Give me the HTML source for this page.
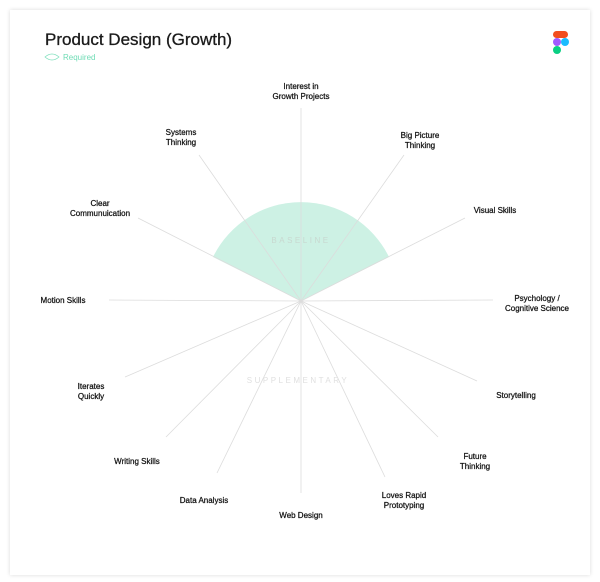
<!DOCTYPE html>
<html><head><meta charset="utf-8"><style>
body{margin:0;background:#fff;width:600px;height:582px;overflow:hidden;font-family:"Liberation Sans",sans-serif;}
.card{position:absolute;left:10px;top:10px;width:580px;height:565px;background:#fff;box-shadow:0 0 4px rgba(0,0,0,0.15);}
</style></head><body>
<div class="card"></div>
<svg width="600" height="582" style="position:absolute;left:0;top:0" font-family="Liberation Sans, sans-serif">
<text x="45" y="45" font-size="17" fill="#1a1a1a" stroke="#1a1a1a" stroke-width="0.3">Product Design (Growth)</text>
<path d="M45 57 Q52 51 59 57 Q52 63 45 57Z" fill="none" stroke="#7fe0bd" stroke-width="0.8"/>
<text x="63" y="60" font-size="8" fill="#6fdcb5">Required</text>
<rect x="553" y="31" width="15" height="7" rx="3.5" fill="#f24e1e"/>
<rect x="553" y="38" width="8" height="8" rx="4" fill="#a259ff"/>
<circle cx="565" cy="42" r="4" fill="#1abcfe"/>
<rect x="553" y="46" width="8" height="8" rx="4" fill="#0acf83"/>
<path d="M301 301 L213 257 A98 98 0 0 1 389 257 Z" fill="#cdf1e4"/>
<g stroke="#dcdcdc" stroke-width="0.8">
<line x1="301" y1="301" x2="301" y2="108"/>
<line x1="301" y1="301" x2="199" y2="155"/>
<line x1="301" y1="301" x2="138" y2="218"/>
<line x1="301" y1="301" x2="109" y2="300"/>
<line x1="301" y1="301" x2="404" y2="155"/>
<line x1="301" y1="301" x2="465" y2="218"/>
<line x1="301" y1="301" x2="493" y2="300"/>
<line x1="301" y1="301" x2="125" y2="377"/>
<line x1="301" y1="301" x2="166" y2="437"/>
<line x1="301" y1="301" x2="217" y2="473"/>
<line x1="301" y1="301" x2="301" y2="493"/>
<line x1="301" y1="301" x2="477" y2="381"/>
<line x1="301" y1="301" x2="438" y2="437"/>
<line x1="301" y1="301" x2="385" y2="477"/>
</g>
<text x="301" y="243" font-size="8" fill="#c8d8d0" text-anchor="middle" letter-spacing="2.5">BASELINE</text>
<text x="298" y="383" font-size="8" fill="#e0e0e0" text-anchor="middle" letter-spacing="2.5">SUPPLEMENTARY</text>
<g font-size="8" fill="#111" stroke="#111" stroke-width="0.25" text-anchor="middle">
<text x="301" y="89">Interest in</text><text x="301" y="99">Growth Projects</text>
<text x="181" y="135">Systems</text><text x="181" y="145">Thinking</text>
<text x="100" y="206">Clear</text><text x="100" y="216">Communuication</text>
<text x="63" y="303">Motion Skills</text>
<text x="420" y="138">Big Picture</text><text x="420" y="148">Thinking</text>
<text x="495" y="213">Visual Skills</text>
<text x="537" y="301">Psychology /</text><text x="537" y="311">Cognitive Science</text>
<text x="516" y="398">Storytelling</text>
<text x="475" y="459">Future</text><text x="475" y="469">Thinking</text>
<text x="404" y="498">Loves Rapid</text><text x="404" y="508">Prototyping</text>
<text x="301" y="518">Web Design</text>
<text x="204" y="503">Data Analysis</text>
<text x="137" y="464">Writing Skills</text>
<text x="91" y="389">Iterates</text><text x="91" y="399">Quickly</text>
</g>
</svg>
</body></html>
